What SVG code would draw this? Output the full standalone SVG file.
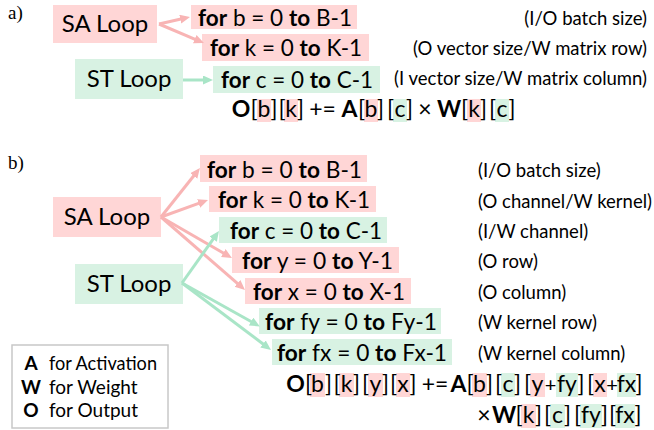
<svg xmlns="http://www.w3.org/2000/svg" width="654" height="430" viewBox="0 0 654 430">
<style>
text{font-family:Lato,"Liberation Sans",sans-serif;fill:#000}
.lbl{font-family:"Liberation Serif",serif;font-size:19px}
.node{font-size:24px;text-anchor:middle}
.loop{font-size:23px}
.b{font-weight:bold}
.note{font-size:18.5px}
.note-r{font-size:18.5px;text-anchor:end}
.f{font-size:23px;text-anchor:middle}
.pl{font-size:20px}
.pk{fill:#ffd6d6}
.gr{fill:#d8f2e3}
.leg{font-size:19px}
.ap{stroke:#f8b4b4;stroke-width:3;fill:none;marker-end:url(#mp)}
.ag{stroke:#a9e5c7;stroke-width:3;fill:none;marker-end:url(#mg)}
</style>
<defs>
<marker id="mp" markerUnits="userSpaceOnUse" markerWidth="11" markerHeight="10" refX="3" refY="4.5" orient="auto"><path d="M0,0 L10,4.5 L0,9 z" fill="#f8b4b4"/></marker>
<marker id="mg" markerUnits="userSpaceOnUse" markerWidth="11" markerHeight="10" refX="3" refY="4.5" orient="auto"><path d="M0,0 L10,4.5 L0,9 z" fill="#a9e5c7"/></marker>
</defs>
<rect width="654" height="430" fill="#fff"/>

<text class="lbl" x="8" y="19">a)</text>
<text class="lbl" x="8" y="169">b)</text>

<!-- part a nodes -->
<g id="a-sa-loop"><rect class="pk" x="53" y="5" width="104" height="38"/><text class="node" x="105" y="32">SA Loop</text></g>
<g id="a-st-loop"><rect class="gr" x="75" y="59" width="108" height="40"/><text class="node" x="129" y="87">ST Loop</text></g>
<g id="a-for-b"><rect class="pk" x="191" y="5" width="166" height="24"/><text class="loop" x="198" y="26" textLength="154" lengthAdjust="spacingAndGlyphs"><tspan class="b">for</tspan> b = 0 <tspan class="b">to</tspan> B-1</text></g>
<g id="a-for-k"><rect class="pk" x="202" y="34" width="167" height="27"/><text class="loop" x="210" y="56" textLength="152" lengthAdjust="spacingAndGlyphs"><tspan class="b">for</tspan> k = 0 <tspan class="b">to</tspan> K-1</text></g>
<g id="a-for-c"><rect class="gr" x="213" y="66" width="167" height="27"/><text class="loop" x="221" y="88" textLength="152" lengthAdjust="spacingAndGlyphs"><tspan class="b">for</tspan> c = 0 <tspan class="b">to</tspan> C-1</text></g>
<g id="a-notes">
<text class="note-r" x="647" y="25">(I/O batch size)</text>
<text class="note-r" x="647" y="55">(O vector size/W matrix row)</text>
<text class="note-r" x="647" y="85">(I vector size/W matrix column)</text>
</g>
<g id="a-formula">
<rect class="pk" x="257" y="99" width="14" height="23"/>
<rect class="pk" x="284" y="99" width="14" height="23"/>
<rect class="pk" x="364" y="99" width="14" height="23"/>
<rect class="gr" x="393" y="99" width="14" height="23"/>
<rect class="pk" x="467" y="99" width="14" height="23"/>
<rect class="gr" x="495" y="99" width="14" height="23"/>
<text class="f" y="117"><tspan class="b" x="241">O</tspan><tspan x="254">[</tspan><tspan x="264">b</tspan><tspan x="274">]</tspan><tspan x="282">[</tspan><tspan x="291">k</tspan><tspan x="300.5">]</tspan><tspan x="322.5">+=</tspan><tspan class="b" x="349.5">A</tspan><tspan x="361.5">[</tspan><tspan x="371">b</tspan><tspan x="380.5">]</tspan><tspan x="390.5">[</tspan><tspan x="400">c</tspan><tspan x="409.5">]</tspan><tspan x="425">×</tspan><tspan class="b" x="449">W</tspan><tspan x="464.5">[</tspan><tspan x="474">k</tspan><tspan x="483.5">]</tspan><tspan x="492.5">[</tspan><tspan x="502">c</tspan><tspan x="512">]</tspan></text>
</g>

<!-- part b nodes -->
<g id="b-sa-loop"><rect class="pk" x="53" y="197" width="108" height="40"/><text class="node" x="107" y="225">SA Loop</text></g>
<g id="b-st-loop"><rect class="gr" x="75" y="264" width="108" height="40"/><text class="node" x="129" y="292">ST Loop</text></g>
<g id="b-for-b"><rect class="pk" x="200" y="155" width="167" height="27"/><text class="loop" x="207" y="178" textLength="155" lengthAdjust="spacingAndGlyphs"><tspan class="b">for</tspan> b = 0 <tspan class="b">to</tspan> B-1</text></g>
<g id="b-for-k"><rect class="pk" x="209" y="186" width="167" height="26"/><text class="loop" x="218" y="208" textLength="152" lengthAdjust="spacingAndGlyphs"><tspan class="b">for</tspan> k = 0 <tspan class="b">to</tspan> K-1</text></g>
<g id="b-for-c"><rect class="gr" x="219" y="217" width="168" height="26"/><text class="loop" x="230" y="239" textLength="152" lengthAdjust="spacingAndGlyphs"><tspan class="b">for</tspan> c = 0 <tspan class="b">to</tspan> C-1</text></g>
<g id="b-for-y"><rect class="pk" x="232" y="247" width="167" height="26"/><text class="loop" x="242" y="269" textLength="151" lengthAdjust="spacingAndGlyphs"><tspan class="b">for</tspan> y = 0 <tspan class="b">to</tspan> Y-1</text></g>
<g id="b-for-x"><rect class="pk" x="245" y="278" width="166" height="26"/><text class="loop" x="253" y="300" textLength="152" lengthAdjust="spacingAndGlyphs"><tspan class="b">for</tspan> x = 0 <tspan class="b">to</tspan> X-1</text></g>
<g id="b-for-fy"><rect class="gr" x="259" y="308" width="182" height="26"/><text class="loop" x="265" y="330" textLength="172" lengthAdjust="spacingAndGlyphs"><tspan class="b">for</tspan> fy = 0 <tspan class="b">to</tspan> Fy-1</text></g>
<g id="b-for-fx"><rect class="gr" x="272" y="339" width="180" height="26"/><text class="loop" x="277" y="361" textLength="170" lengthAdjust="spacingAndGlyphs"><tspan class="b">for</tspan> fx = 0 <tspan class="b">to</tspan> Fx-1</text></g>
<g id="b-notes">
<text class="note" x="478" y="177">(I/O batch size)</text>
<text class="note" x="478" y="208">(O channel/W kernel)</text>
<text class="note" x="478" y="238">(I/W channel)</text>
<text class="note" x="478" y="268">(O row)</text>
<text class="note" x="478" y="299">(O column)</text>
<text class="note" x="478" y="329">(W kernel row)</text>
<text class="note" x="478" y="360">(W kernel column)</text>
</g>
<g id="b-formula">
<rect class="pk" x="310" y="373" width="15" height="24"/>
<rect class="pk" x="339" y="373" width="15" height="24"/>
<rect class="pk" x="368" y="373" width="15" height="24"/>
<rect class="pk" x="396" y="373" width="14" height="24"/>
<rect class="pk" x="472" y="373" width="15" height="24"/>
<rect class="gr" x="501" y="373" width="14" height="24"/>
<rect class="pk" x="530" y="373" width="15" height="24"/>
<rect class="gr" x="556" y="373" width="22" height="24"/>
<rect class="pk" x="593" y="373" width="14" height="24"/>
<rect class="gr" x="617" y="373" width="19" height="24"/>
<rect class="pk" x="521" y="404" width="15" height="24"/>
<rect class="gr" x="550" y="404" width="15" height="24"/>
<rect class="gr" x="580" y="404" width="22" height="24"/>
<rect class="gr" x="615" y="404" width="20" height="24"/>
<text class="f" y="392"><tspan class="b" x="295.5">O</tspan><tspan x="308.5">[</tspan><tspan x="317.5">b</tspan><tspan x="328.5">]</tspan><tspan x="337">[</tspan><tspan x="346.5">k</tspan><tspan x="356.5">]</tspan><tspan x="365.5">[</tspan><tspan x="375.5">y</tspan><tspan x="385.5">]</tspan><tspan x="393.5">[</tspan><tspan x="403">x</tspan><tspan x="413">]</tspan><tspan x="435">+=</tspan><tspan class="b" x="458.5">A</tspan><tspan x="470">[</tspan><tspan x="479.5">b</tspan><tspan x="489.5">]</tspan><tspan x="498.5">[</tspan><tspan x="508">c</tspan><tspan x="517.5">]</tspan><tspan x="527.5">[</tspan><tspan x="537.5">y</tspan><tspan class="pl" x="550.5">+</tspan><tspan x="567">fy</tspan><tspan x="581">]</tspan><tspan x="590.5">[</tspan><tspan x="600">x</tspan><tspan class="pl" x="612">+</tspan><tspan x="626.5">fx</tspan><tspan x="639">]</tspan></text>
<text class="f" y="423"><tspan x="484">×</tspan><tspan class="b" x="504">W</tspan><tspan x="519">[</tspan><tspan x="528.5">k</tspan><tspan x="538.5">]</tspan><tspan x="547.5">[</tspan><tspan x="557.5">c</tspan><tspan x="567.5">]</tspan><tspan x="577.5">[</tspan><tspan x="591">fy</tspan><tspan x="604.5">]</tspan><tspan x="612.5">[</tspan><tspan x="625">fx</tspan><tspan x="638">]</tspan></text>
</g>

<g id="legend">
<rect x="12" y="345" width="156" height="83" fill="#fff" stroke="#c8c8c8" stroke-width="1.5"/>
<text class="leg b" x="31" y="370" text-anchor="middle">A</text>
<text class="leg" x="49" y="370" textLength="108" lengthAdjust="spacingAndGlyphs">for Activation</text>
<text class="leg b" x="31" y="393.5" text-anchor="middle">W</text>
<text class="leg" x="49" y="393.5">for Weight</text>
<text class="leg b" x="31" y="417" text-anchor="middle">O</text>
<text class="leg" x="49" y="417">for Output</text>
</g>

<g id="connectors">
<line class="ap" x1="159" y1="24" x2="183.2" y2="18.5"/>
<line class="ap" x1="159" y1="24" x2="197.5" y2="40.3"/>
<line class="ag" x1="183" y1="80" x2="206" y2="80"/>
<line class="ap" x1="161" y1="217" x2="195.6" y2="173.5"/>
<line class="ap" x1="161" y1="217" x2="201.4" y2="202.4"/>
<line class="ap" x1="161" y1="217" x2="225.9" y2="254.5"/>
<line class="ap" x1="161" y1="217" x2="239.7" y2="285.4"/>
<line class="ag" x1="182" y1="283" x2="214.9" y2="236.7"/>
<line class="ag" x1="182" y1="283" x2="253.7" y2="323"/>
<line class="ag" x1="182" y1="283" x2="265.4" y2="345.8"/>
</g>
</svg>
